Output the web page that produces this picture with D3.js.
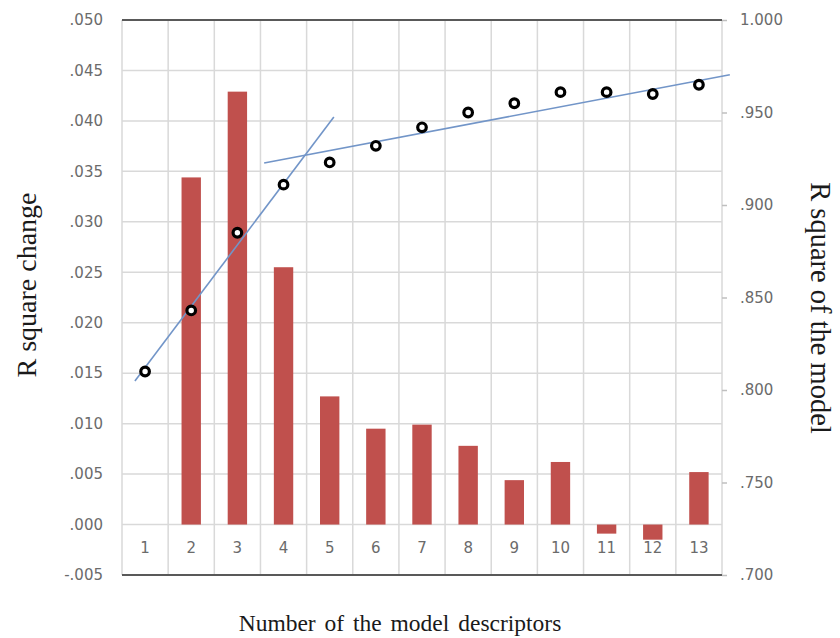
<!DOCTYPE html>
<html>
<head>
<meta charset="utf-8">
<script src="https://cdn.jsdelivr.net/npm/d3@7"></script>
<style>
  body { margin: 0; background: #fff; }
  .tick text { fill: #6b6b6b; font-family: "DejaVu Sans", sans-serif; font-size: 15px; }
  .title { font-family: "Liberation Serif", "Times New Roman", serif; fill: #1a1a1a; }
</style>
</head>
<body>
<div class="canvas"></div>
<script>
// data
const categories = ['1','2','3','4','5','6','7','8','9','10','11','12','13'];
const rSquareChange = [null, 0.0344, 0.0429, 0.0255, 0.0127, 0.0095, 0.0099, 0.0078, 0.0044, 0.0062, -0.0009, -0.0015, 0.0052];
const rSquareModel = [0.810, 0.843, 0.885, 0.911, 0.923, 0.932, 0.942, 0.950, 0.955, 0.961, 0.961, 0.960, 0.965];
const leftTicks = [-0.005, 0, 0.005, 0.010, 0.015, 0.020, 0.025, 0.030, 0.035, 0.040, 0.045, 0.050];
const rightTicks = [0.700, 0.750, 0.800, 0.850, 0.900, 0.950, 1.000];
// trend lines: [category position, R square of model]
const trendEarly = [[0.78, 0.8049], [5.09, 0.9476]];
const trendLate = [[3.58, 0.9227], [13.67, 0.9704]];

const width = 840, height = 638;
const margin = {top: 20, right: 118, bottom: 63, left: 122};
const graphWidth = width - margin.left - margin.right;
const graphHeight = height - margin.top - margin.bottom;

const svg = d3.select('.canvas')
  .append('svg')
    .attr('width', width)
    .attr('height', height);

const graph = svg.append('g')
  .attr('transform', `translate(${margin.left}, ${margin.top})`);

// scales
const x = d3.scaleBand()
  .domain(categories)
  .range([0, graphWidth])
  .paddingInner(0)
  .paddingOuter(0);

const xPos = d3.scaleLinear()
  .domain([0.5, categories.length + 0.5])
  .range([0, graphWidth]);

const yLeft = d3.scaleLinear()
  .domain([-0.005, 0.05])
  .range([graphHeight, 0]);

const yRight = d3.scaleLinear()
  .domain([0.7, 1.0])
  .range([graphHeight, 0]);

// ".050" / "-.005" style labels
const fmt = d => {
  const s = Math.abs(d).toFixed(3).replace(/^0\./, '.');
  return (d < 0 ? '-' : '') + s;
};

// grid lines
graph.append('g')
  .selectAll('line')
  .data(leftTicks)
  .enter().append('line')
    .attr('x1', 0)
    .attr('x2', graphWidth)
    .attr('y1', d => yLeft(d))
    .attr('y2', d => yLeft(d))
    .attr('stroke', '#d9d9d9')
    .attr('stroke-width', 1.5);

const bounds = categories.map(c => x(c)).concat([graphWidth]);
graph.append('g')
  .selectAll('line')
  .data(bounds)
  .enter().append('line')
    .attr('x1', d => d)
    .attr('x2', d => d)
    .attr('y1', 0)
    .attr('y2', graphHeight)
    .attr('stroke', '#d9d9d9')
    .attr('stroke-width', 1.5);

// top and bottom borders
graph.append('line')
  .attr('x1', 0).attr('x2', graphWidth)
  .attr('y1', 0).attr('y2', 0)
  .attr('stroke', '#595959').attr('stroke-width', 2);
graph.append('line')
  .attr('x1', 0).attr('x2', graphWidth)
  .attr('y1', graphHeight).attr('y2', graphHeight)
  .attr('stroke', '#595959').attr('stroke-width', 2);

// bars
const barWidth = x.bandwidth() * 0.42;
graph.append('g')
  .selectAll('rect')
  .data(categories.map((c, i) => ({name: c, value: rSquareChange[i]})).filter(d => d.value !== null))
  .enter().append('rect')
    .attr('x', d => x(d.name) + (x.bandwidth() - barWidth) / 2)
    .attr('width', barWidth)
    .attr('y', d => yLeft(Math.max(0, d.value)))
    .attr('height', d => Math.abs(yLeft(d.value) - yLeft(0)))
    .attr('fill', '#c0504d');

// axes
const yAxisLeft = d3.axisLeft(yLeft)
  .tickValues(leftTicks)
  .tickSize(0)
  .tickPadding(19)
  .tickFormat(fmt);
graph.append('g').call(yAxisLeft)
  .call(g => g.select('.domain').remove());

const yAxisRight = d3.axisRight(yRight)
  .tickValues(rightTicks)
  .tickSize(5)
  .tickPadding(13)
  .tickFormat(fmt);
graph.append('g')
  .attr('transform', `translate(${graphWidth}, 0)`)
  .call(yAxisRight)
  .call(g => g.select('.domain').remove())
  .call(g => g.selectAll('.tick line').attr('stroke', '#bfbfbf').attr('stroke-width', 1.5));

const xAxis = d3.axisBottom(x)
  .tickSize(0)
  .tickPadding(18);
graph.append('g')
  .attr('transform', `translate(0, ${yLeft(0)})`)
  .call(xAxis)
  .call(g => g.select('.domain').remove());

// trend lines
const line = d3.line()
  .x(d => xPos(d[0]))
  .y(d => yRight(d[1]));
[trendEarly, trendLate].forEach(t => {
  graph.append('path')
    .attr('d', line(t))
    .attr('fill', 'none')
    .attr('stroke', '#7295c8')
    .attr('stroke-width', 1.6);
});

// points
graph.append('g')
  .selectAll('circle')
  .data(categories.map((c, i) => ({name: c, value: rSquareModel[i]})))
  .enter().append('circle')
    .attr('cx', d => x(d.name) + x.bandwidth() / 2)
    .attr('cy', d => yRight(d.value))
    .attr('r', 4.3)
    .attr('fill', '#fff')
    .attr('stroke', '#000')
    .attr('stroke-width', 3.2);

// axis titles
svg.append('text')
  .attr('class', 'title')
  .attr('transform', `translate(36, 285) rotate(-90)`)
  .attr('text-anchor', 'middle')
  .attr('font-size', 28)
  .text('R square change');

svg.append('text')
  .attr('class', 'title')
  .attr('transform', `translate(811, 308) rotate(90)`)
  .attr('text-anchor', 'middle')
  .attr('font-size', 28.5)
  .text('R square of the model');

svg.append('text')
  .attr('class', 'title')
  .attr('x', 400)
  .attr('y', 631)
  .attr('text-anchor', 'middle')
  .attr('font-size', 23.5)
  .attr('word-spacing', 3)
  .text('Number of the model descriptors');
</script>
</body>
</html>
